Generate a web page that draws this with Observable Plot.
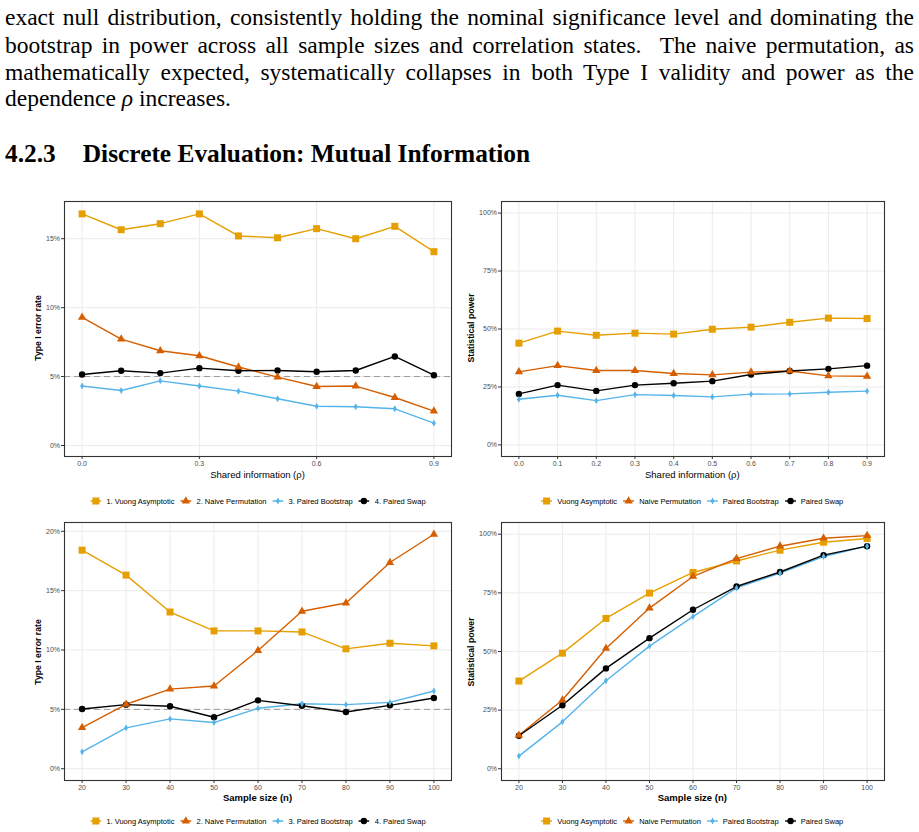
<!DOCTYPE html>
<html>
<head>
<meta charset="utf-8">
<script src="https://cdn.jsdelivr.net/npm/d3@7"></script>
<script src="https://cdn.jsdelivr.net/npm/@observablehq/plot@0.6"></script>
<style>
  html, body { margin: 0; padding: 0; background: #fff; }
  #page { position: relative; width: 919px; height: 832px; overflow: hidden; }
  .tline { position: absolute; left: 5px; width: 909px; font-family: "Liberation Serif", "DejaVu Serif", serif; font-size: 23.5px; line-height: 26px; color: #000; white-space: nowrap; }
  .just { text-align: justify; text-align-last: justify; white-space: normal; }
  .heading { position: absolute; left: 5px; top: 138px; font-family: "Liberation Serif", serif; font-weight: bold; font-size: 25.4px; line-height: 30px; white-space: nowrap; }
  .panel { position: absolute; }
  .atitle { position: absolute; font-family: "Liberation Sans", Arial, sans-serif; color: #000; white-space: nowrap; transform: translate(-50%, -50%); }
  .ytitle { transform: translate(-50%, -50%) rotate(-90deg); }
  .legend { position: absolute; display: flex; align-items: center; gap: 6px; font-family: "Liberation Sans", Arial, sans-serif; font-size: 7.5px; color: #000; transform: translate(-50%, -50%); white-space: nowrap; }
  .litem { display: flex; align-items: center; gap: 5px; }
</style>
</head>
<body>
<div id="page">
  <div class="tline just" style="top:4px">exact null distribution, consistently holding the nominal significance level and dominating the</div>
  <div class="tline just" style="top:32px">bootstrap in power across all sample sizes and correlation states.&nbsp; The naive permutation, as</div>
  <div class="tline just" style="top:59px">mathematically expected, systematically collapses in both Type I validity and power as the</div>
  <div class="tline" style="top:85px">dependence <i>ρ</i> increases.</div>
  <div class="heading">4.2.3<span style="display:inline-block;width:27px"></span>Discrete Evaluation: Mutual Information</div>
</div>
<script>
// ---------- Data ----------
const rho = [0, 0.1, 0.2, 0.3, 0.4, 0.5, 0.6, 0.7, 0.8, 0.9];
const nSizes = [20, 30, 40, 50, 60, 70, 80, 90, 100];
const methods = ["Vuong Asymptotic", "Naive Permutation", "Paired Bootstrap", "Paired Swap"];
const legendNumbered = ["1. Vuong Asymptotic", "2. Naive Permutation", "3. Paired Bootstrap", "4. Paired Swap"];
const legendPlain = ["Vuong Asymptotic", "Naive Permutation", "Paired Bootstrap", "Paired Swap"];
const colors = ["#E69F00", "#D55E00", "#56B4E9", "#000000"];
const symbols = ["square", "triangle", "diamond", "circle"];
const symbolR = [3.95, 3.1, 2.1, 3.2];

// Type I error vs rho (%)
const typeIRhoVuong = [16.8, 15.65, 16.09, 16.8, 15.2, 15.07, 15.73, 15.0, 15.9, 14.06];
const typeIRhoNaive = [9.29, 7.72, 6.87, 6.51, 5.69, 4.96, 4.28, 4.31, 3.48, 2.49];
const typeIRhoBoot  = [4.31, 3.99, 4.69, 4.31, 3.94, 3.39, 2.85, 2.81, 2.66, 1.62];
const typeIRhoSwap  = [5.15, 5.42, 5.25, 5.61, 5.42, 5.44, 5.35, 5.44, 6.46, 5.10];

// Power vs rho (%)
const powerRhoVuong = [43.9, 49.1, 47.3, 48.2, 47.8, 49.9, 50.8, 52.9, 54.7, 54.5];
const powerRhoNaive = [31.5, 34.2, 32.1, 32.1, 30.8, 30.2, 31.4, 31.9, 29.8, 29.6];
const powerRhoBoot  = [19.7, 21.4, 19.1, 21.7, 21.3, 20.7, 21.9, 22.0, 22.7, 23.2];
const powerRhoSwap  = [22.0, 25.8, 23.3, 25.8, 26.6, 27.5, 30.4, 31.9, 32.8, 34.2];

// Type I error vs n (%)
const typeINVuong = [18.41, 16.31, 13.2, 11.61, 11.61, 11.52, 10.1, 10.57, 10.35];
const typeINNaive = [3.47, 5.43, 6.71, 6.97, 9.96, 13.26, 13.96, 17.37, 19.75];
const typeINBoot  = [1.43, 3.44, 4.2, 3.89, 5.09, 5.48, 5.4, 5.59, 6.55];
const typeINSwap  = [5.03, 5.4, 5.26, 4.34, 5.76, 5.31, 4.78, 5.34, 5.96];

// Power vs n (%)
const powerNVuong = [37.4, 49.3, 64.1, 74.9, 83.7, 88.6, 93.2, 96.6, 98.2];
const powerNNaive = [14.3, 29.3, 51.3, 68.5, 82.0, 89.6, 94.9, 98.3, 99.4];
const powerNBoot  = [5.4, 20.0, 37.5, 52.3, 64.9, 77.1, 83.4, 90.5, 94.9];
const powerNSwap  = [14.1, 27.1, 42.8, 55.7, 67.8, 77.7, 83.9, 91.1, 94.9];

const yTicksT1a = [0, 5, 10, 15];
const yTicksT1b = [0, 5, 10, 15, 20];
const yTicksPow = [0, 25, 50, 75, 100];
const xTicksRhoSparse = [0, 0.3, 0.6, 0.9];

// ---------- Helpers ----------
function rows(xs, seriesList) {
  const out = [];
  seriesList.forEach((vals, i) => {
    vals.forEach((v, j) => out.push({x: xs[j], y: v, m: methods[i], r: symbolR[i]}));
  });
  return out;
}

const page = document.getElementById("page");

function addPanel(o) {
  const data = rows(o.xs, o.series);
  const marks = [
    Plot.gridX(o.xTicks, {stroke: "#ebebeb", strokeOpacity: 1, strokeWidth: 1}),
    Plot.gridY(o.yTicks, {stroke: "#ebebeb", strokeOpacity: 1, strokeWidth: 1}),
  ];
  if (o.ref) marks.push(Plot.ruleY([5], {stroke: "#9a9a9a", strokeWidth: 1, strokeDasharray: "6,4"}));
  marks.push(
    Plot.line(data, {x: "x", y: "y", z: "m", stroke: "m", strokeWidth: 1.4}),
    Plot.dot(data, {x: "x", y: "y", symbol: "m", fill: "m", r: "r", stroke: "none"}),
    Plot.frame({stroke: "#333333", strokeWidth: 1.1}),
    Plot.axisX(o.xTicks, {tickFormat: o.xFmt, tickSize: 3, tickPadding: 2, fontSize: 7, color: "#4d4d4d", stroke: "#333", label: null}),
    Plot.axisY(o.yTicks, {tickFormat: d => d + "%", tickSize: 3, tickPadding: 1.5, fontSize: 7, color: "#4d4d4d", stroke: "#333", label: null})
  );
  const chart = Plot.plot({
    width: o.width, height: o.height,
    marginLeft: o.ml, marginRight: o.mr, marginTop: o.mt, marginBottom: o.mb,
    style: {fontFamily: "Liberation Sans, Arial, sans-serif", background: "white"},
    x: {domain: o.xDomain},
    y: {domain: o.yDomain},
    color: {domain: methods, range: colors},
    symbol: {domain: methods, range: symbols},
    r: {type: "identity"},
    marks
  });
  chart.classList.add("panel");
  chart.style.left = o.left + "px";
  chart.style.top = o.top + "px";
  page.appendChild(chart);

  // axis titles
  const xt = document.createElement("div");
  xt.className = "atitle";
  xt.textContent = o.xLabel;
  xt.style.left = o.xLabelPos[0] + "px";
  xt.style.top = o.xLabelPos[1] + "px";
  xt.style.fontSize = "9.5px";
  xt.style.fontWeight = o.xBold ? "bold" : "normal";
  page.appendChild(xt);

  const yt = document.createElement("div");
  yt.className = "atitle ytitle";
  yt.textContent = o.yLabel;
  yt.style.left = o.yLabelPos[0] + "px";
  yt.style.top = o.yLabelPos[1] + "px";
  yt.style.fontSize = "8.7px";
  yt.style.fontWeight = "bold";
  page.appendChild(yt);

  // legend
  const lg = document.createElement("div");
  lg.className = "legend";
  lg.style.left = o.legendPos[0] + "px";
  lg.style.top = o.legendPos[1] + "px";
  o.legendLabels.forEach((lab, i) => {
    const item = document.createElement("div");
    item.className = "litem";
    const svg = d3.create("svg").attr("width", 11).attr("height", 10);
    svg.append("line").attr("x1", 0).attr("x2", 11).attr("y1", 5).attr("y2", 5)
      .attr("stroke", colors[i]).attr("stroke-width", 1.4);
    const symMap = {square: d3.symbolSquare, triangle: d3.symbolTriangle, diamond: d3.symbolDiamond, circle: d3.symbolCircle};
    svg.append("path").attr("transform", "translate(5.5,5)")
      .attr("d", d3.symbol(symMap[symbols[i]], symbolR[i] * symbolR[i] * Math.PI)())
      .attr("fill", colors[i]);
    item.appendChild(svg.node());
    const sp = document.createElement("span");
    sp.textContent = lab;
    item.appendChild(sp);
    lg.appendChild(item);
  });
  page.appendChild(lg);
}

// ---------- Panels ----------
addPanel({
  left: 0, top: 190, width: 460, height: 300, ml: 64, mr: 9, mt: 11, mb: 34,
  xs: rho, series: [typeIRhoVuong, typeIRhoNaive, typeIRhoBoot, typeIRhoSwap],
  xDomain: [-0.045, 0.945], xTicks: xTicksRhoSparse, xFmt: d3.format(".1f"),
  yDomain: [-0.8, 17.7], yTicks: yTicksT1a, ref: true,
  xLabel: "Shared information (ρ)", xBold: false, xLabelPos: [257.5, 474],
  yLabel: "Type I error rate", yLabelPos: [38, 328],
  legendLabels: legendNumbered, legendPos: [258, 501]
});
addPanel({
  left: 460, top: 190, width: 459, height: 300, ml: 41, mr: 35, mt: 11, mb: 34,
  xs: rho, series: [powerRhoVuong, powerRhoNaive, powerRhoBoot, powerRhoSwap],
  xDomain: [-0.045, 0.945], xTicks: rho, xFmt: d3.format(".1f"),
  yDomain: [-5, 105], yTicks: yTicksPow, ref: false,
  xLabel: "Shared information (ρ)", xBold: false, xLabelPos: [692.3, 474],
  yLabel: "Statistical power", yLabelPos: [470.7, 328],
  legendLabels: legendPlain, legendPos: [692.3, 501]
});
addPanel({
  left: 0, top: 510, width: 460, height: 300, ml: 64, mr: 9, mt: 12, mb: 30,
  xs: nSizes, series: [typeINVuong, typeINNaive, typeINBoot, typeINSwap],
  xDomain: [16, 104], xTicks: nSizes, xFmt: d => String(d),
  yDomain: [-0.99, 20.74], yTicks: yTicksT1b, ref: true,
  xLabel: "Sample size (n)", xBold: true, xLabelPos: [257.5, 797],
  yLabel: "Type I error rate", yLabelPos: [38, 652],
  legendLabels: legendNumbered, legendPos: [258, 821]
});
addPanel({
  left: 460, top: 510, width: 459, height: 300, ml: 41, mr: 35, mt: 12, mb: 30,
  xs: nSizes, series: [powerNVuong, powerNNaive, powerNBoot, powerNSwap],
  xDomain: [16, 104], xTicks: nSizes, xFmt: d => String(d),
  yDomain: [-5, 105], yTicks: yTicksPow, ref: false,
  xLabel: "Sample size (n)", xBold: true, xLabelPos: [692.3, 797],
  yLabel: "Statistical power", yLabelPos: [470.7, 652],
  legendLabels: legendPlain, legendPos: [692.3, 821]
});
</script>
</body>
</html>
